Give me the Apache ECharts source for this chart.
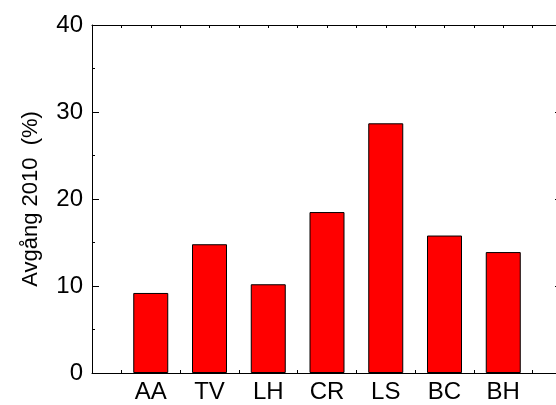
<!DOCTYPE html>
<html>
<head>
<meta charset="utf-8">
<script src="https://cdn.jsdelivr.net/npm/echarts@6/dist/echarts.min.js"></script>
<style>html,body{margin:0;padding:0;background:#fff}#c{width:556px;height:405px}</style>
</head>
<body>
<div id="c"></div>
<script>
var categories = ['AA', 'TV', 'LH', 'CR', 'LS', 'BC', 'BH'];
var values = [9.2, 14.8, 10.2, 18.5, 28.7, 15.8, 13.9];
var yTicks = [0, 10, 20, 30, 40];
var yName = 'Avgång 2010  (%)';

var font = '"Liberation Sans", Arial, sans-serif';
var chart = echarts.init(document.getElementById('c'));
var data = values.map(function (v, i) { return [i + 1, v]; });
var lineStyle = { color: '#000', width: 1 };
chart.setOption({
  animation: false,
  grid: { left: 92, width: 470, top: 25, height: 348, containLabel: false, outerBoundsMode: 'none' },
  xAxis: [{
    type: 'value', min: 0, max: categories.length + 1, interval: 0.5,
    position: 'bottom',
    axisLine: { show: true, onZero: false, lineStyle: lineStyle },
    axisTick: { show: true, inside: true, length: 3, lineStyle: lineStyle },
    splitLine: { show: false },
    axisLabel: {
      show: true, margin: 7, color: '#000', fontFamily: font, fontSize: 24,
      formatter: function (v) {
        var i = Math.round(v);
        return (Math.abs(v - i) < 1e-6 && i >= 1 && i <= categories.length) ? categories[i - 1] : '';
      }
    }
  }, {
    type: 'value', min: 0, max: categories.length + 1, interval: 0.5,
    position: 'top',
    axisLine: { show: true, onZero: false, lineStyle: lineStyle },
    axisTick: { show: true, inside: true, length: 3, lineStyle: lineStyle },
    splitLine: { show: false },
    axisLabel: { show: false }
  }],
  yAxis: [{
    type: 'value', min: yTicks[0], max: yTicks[yTicks.length - 1], interval: 10,
    position: 'left',
    name: yName, nameLocation: 'middle', nameGap: 50, nameRotate: 90,
    nameTextStyle: { color: '#000', fontFamily: font, fontSize: 22 },
    axisLine: { show: true, onZero: false, lineStyle: lineStyle },
    axisTick: { show: true, inside: true, length: 7, lineStyle: lineStyle },
    minorTick: { show: true, splitNumber: 2, length: 3, lineStyle: lineStyle },
    splitLine: { show: false },
    axisLabel: { show: true, margin: 9, color: '#000', fontFamily: font, fontSize: 24 }
  }, {
    type: 'value', min: yTicks[0], max: yTicks[yTicks.length - 1], interval: 10,
    position: 'right',
    axisLine: { show: true, onZero: false, lineStyle: lineStyle },
    axisTick: { show: true, inside: true, length: 7, lineStyle: lineStyle },
    minorTick: { show: true, splitNumber: 2, length: 3, lineStyle: lineStyle },
    splitLine: { show: false },
    axisLabel: { show: false }
  }],
  series: [{
    type: 'bar', xAxisIndex: 0, yAxisIndex: 0,
    data: data, barWidth: 35,
    itemStyle: { color: '#ff0000', borderColor: '#000', borderWidth: 1 }
  }]
});
</script>
</body>
</html>
